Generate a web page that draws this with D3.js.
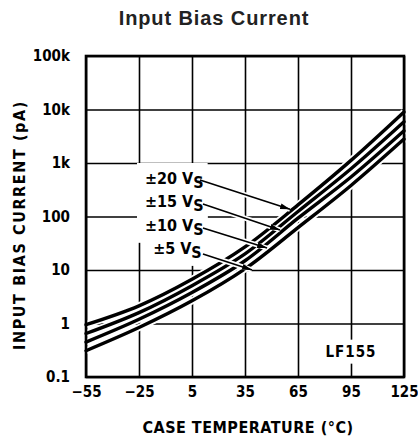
<!DOCTYPE html>
<html>
<head>
<meta charset="utf-8">
<script src="https://d3js.org/d3.v7.min.js"></script>
<style>
  body { margin: 0; background: #fff; }
  .cond { font-family: "Liberation Sans Narrow", "DejaVu Sans Condensed", "Liberation Sans", sans-serif; font-weight: bold; }
</style>
</head>
<body>
<div id="chart"></div>
<script>
// temperature points (°C) and bias current (pA)
var temps = [-55, -25, 5, 35, 65, 95, 125];
var i20 = [0.95, 2.14, 6.7, 27, 165, 1120, 9000];
var i15 = [0.65, 1.6, 5.1, 20, 124, 780, 5900];
var i10 = [0.45, 1.2, 3.8, 14.9, 93, 547, 4000];
var i5  = [0.31, 0.84, 2.65, 10.5, 62, 380, 2800];

var xTicks = [-55, -25, 5, 35, 65, 95, 125];
var yTicks = [0.1, 1, 10, 100, 1000, 10000, 100000];
var yTickLabels = ["0.1", "1", "10", "100", "1k", "10k", "100k"];

// label text, label anchor (T, I), arrow start (T, I), arrow end (T, I)
var supplies = ["\u00b120", "\u00b115", "\u00b110", "\u00b15"];
var labelAt = [[-21.6, 405], [-21.6, 151], [-21.6, 54], [-17, 20]];
var arrowFrom = [[9.5, 480], [11.2, 171], [11.2, 61], [11.2, 20]];
var arrowTo = [[60.5, 136], [54.8, 56], [47.5, 25.7], [39, 10]];

var W = 418, H = 446;
var margin = { top: 56, right: 14, bottom: 69, left: 86 };
var width = W - margin.left - margin.right,
    height = H - margin.top - margin.bottom;

var svg = d3.select("#chart").append("svg")
    .attr("width", W)
    .attr("height", H);

var defs = svg.append("defs");
defs.append("marker")
    .attr("id", "head")
    .attr("viewBox", "0 0 10 6")
    .attr("refX", 10).attr("refY", 3)
    .attr("markerWidth", 10).attr("markerHeight", 6)
    .attr("markerUnits", "userSpaceOnUse")
    .attr("orient", "auto")
    .append("path")
    .attr("d", "M0,0 L10,3 L0,6 Z")
    .attr("fill", "#000");

svg.append("text")
    .attr("x", 214).attr("y", 25)
    .attr("text-anchor", "middle")
    .style("font-family", "'Liberation Sans', Arial, sans-serif")
    .style("font-weight", "bold")
    .style("font-size", "20px")
    .style("letter-spacing", "0.9px")
    .attr("fill", "#222")
    .text("Input Bias Current");

var g = svg.append("g")
    .attr("transform", "translate(" + margin.left + "," + margin.top + ")");

var x = d3.scaleLinear().domain([-55, 125]).range([0, width]);
var y = d3.scaleLog().domain([0.1, 100000]).range([height, 0]);

// grid + tick labels
var xAxis = g.append("g")
    .attr("transform", "translate(0," + height + ")")
    .call(d3.axisBottom(x)
        .tickValues(xTicks)
        .tickSize(-height)
        .tickPadding(9)
        .tickFormat(function(d) { return d < 0 ? "\u2212" + Math.abs(d) : d; }));

var yAxis = g.append("g")
    .call(d3.axisLeft(y)
        .tickValues(yTicks)
        .tickSize(-width)
        .tickPadding(16)
        .tickFormat(function(d, i) { return yTickLabels[i]; }));

[xAxis, yAxis].forEach(function(a) {
    a.select(".domain").remove();
    a.selectAll(".tick line").attr("stroke", "#000").attr("stroke-width", 1.6);
    a.selectAll(".tick text")
        .attr("class", "cond")
        .style("font-size", "15px")
        .attr("fill", "#000");
});

// white boxes behind annotation text (the grid is broken there)
var boxes = g.append("g");

var line = d3.line()
    .curve(d3.curveCatmullRom)
    .x(function(d) { return x(d[0]); })
    .y(function(d) { return y(d[1]); });

var series = [i20, i15, i10, i5].map(function(vals) {
    return temps.map(function(t, i) { return [t, vals[i]]; });
});

var curves = g.append("g");
series.forEach(function(s) {
    curves.append("path").datum(s)
        .attr("fill", "none").attr("stroke", "#fff").attr("stroke-width", 7)
        .attr("d", line);
});
series.forEach(function(s) {
    curves.append("path").datum(s)
        .attr("fill", "none").attr("stroke", "#000").attr("stroke-width", 3.4)
        .attr("stroke-linecap", "round")
        .attr("d", line);
});

// arrows
var arrows = g.append("g");
supplies.forEach(function(s, i) {
    var x1 = x(arrowFrom[i][0]), y1 = y(arrowFrom[i][1]),
        x2 = x(arrowTo[i][0]), y2 = y(arrowTo[i][1]);
    arrows.append("line")
        .attr("x1", x1).attr("y1", y1).attr("x2", x2).attr("y2", y2)
        .attr("stroke", "#fff").attr("stroke-width", 5);
});
supplies.forEach(function(s, i) {
    arrows.append("line")
        .attr("x1", x(arrowFrom[i][0])).attr("y1", y(arrowFrom[i][1]))
        .attr("x2", x(arrowTo[i][0])).attr("y2", y(arrowTo[i][1]))
        .attr("stroke", "#000").attr("stroke-width", 1.6)
        .attr("marker-end", "url(#head)");
});

// labels
var labels = g.append("g");
supplies.forEach(function(s, i) {
    var t = labels.append("text")
        .attr("class", "cond")
        .attr("x", x(labelAt[i][0]))
        .attr("y", y(labelAt[i][1]))
        .style("font-size", "16px")
        .attr("fill", "#000");
    t.append("tspan").text(s + " V");
    t.append("tspan").attr("dy", 4).text("S");
    var b = t.node().getBBox();
    boxes.append("rect")
        .attr("x", b.x - 8).attr("y", b.y - 6)
        .attr("width", b.width + 12).attr("height", b.height + 10)
        .attr("fill", "#fff");
});

var part = labels.append("text")
    .attr("class", "cond")
    .attr("x", x(95)).attr("y", y(0.24))
    .attr("text-anchor", "middle")
    .style("font-size", "15px")
    .style("letter-spacing", "1px")
    .attr("fill", "#000")
    .text("LF155");
var pb = part.node().getBBox();
boxes.append("rect")
    .attr("x", pb.x - 3).attr("y", pb.y - 3)
    .attr("width", pb.width + 6).attr("height", pb.height + 6)
    .attr("fill", "#fff");

// frame
g.append("rect")
    .attr("width", width).attr("height", height)
    .attr("fill", "none").attr("stroke", "#000").attr("stroke-width", 2.6);

// axis titles
svg.append("text")
    .attr("class", "cond")
    .attr("x", 248).attr("y", 433)
    .attr("text-anchor", "middle")
    .style("font-size", "16px")
    .style("letter-spacing", "0.5px")
    .text("CASE TEMPERATURE (\u00b0C)");

svg.append("text")
    .attr("class", "cond")
    .attr("transform", "translate(25,225) rotate(-90)")
    .attr("text-anchor", "middle")
    .style("font-size", "16px")
    .style("letter-spacing", "1.6px")
    .text("INPUT BIAS CURRENT (pA)");
</script>
</body>
</html>
